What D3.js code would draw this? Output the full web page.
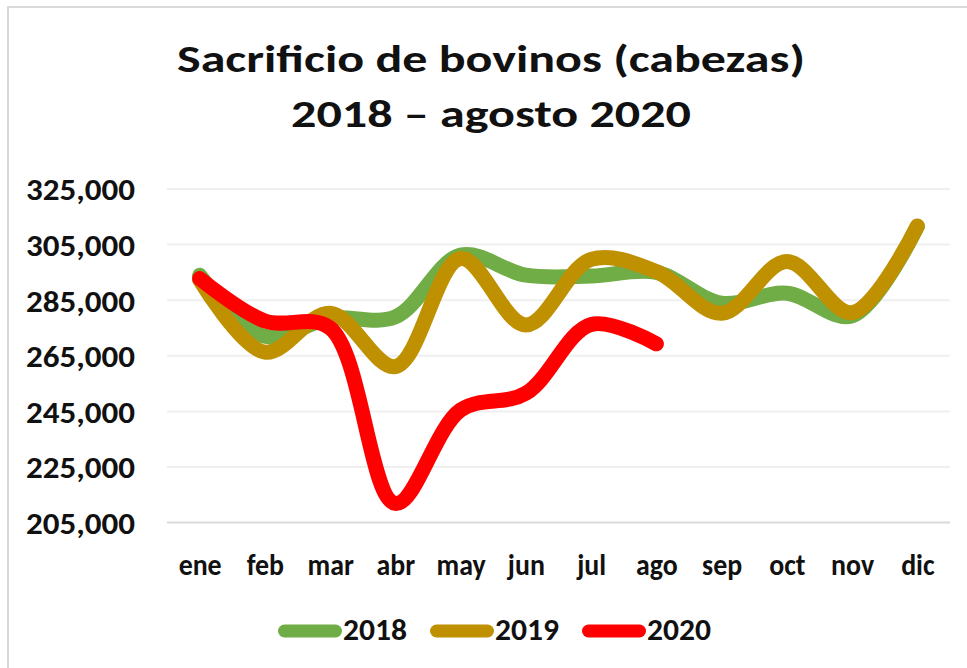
<!DOCTYPE html>
<html>
<head>
<meta charset="utf-8">
<script src="https://cdn.jsdelivr.net/npm/d3@7"></script>
<style>
  body { margin: 0; background: #fff; }
  svg { display: block; }
  text { font-family: Carlito, Lato, "Open Sans", sans-serif; font-weight: bold; fill: #111; }
</style>
</head>
<body>
<div class="chart-container"></div>
<script>
// Monthly data (heads)
const months = ["ene", "feb", "mar", "abr", "may", "jun", "jul", "ago", "sep", "oct", "nov", "dic"];
const values2018 = [294000, 272000, 278500, 279000, 301200, 294000, 293700, 295000, 283900, 287500, 279400, 311500];
const values2019 = [292300, 266300, 280300, 261100, 300000, 276100, 299700, 295300, 280300, 298900, 280500, 311700];
const values2020 = [292800, 277500, 275000, 211900, 245500, 251500, 276300, 269300];
const seriesNames = ["2018", "2019", "2020"];
const yTicks = [205000, 225000, 245000, 265000, 285000, 305000, 325000];

const colors = {"2018": "#70ad47", "2019": "#bf9000", "2020": "#ff0000"};

function drawChart() {
    const width = 967, height = 668;
    const plot = {left: 167, right: 950, top: 189, bottom: 522.6};

    const svg = d3.select(".chart-container")
        .append("svg")
        .attr("width", width)
        .attr("height", height);

    svg.append("rect")
        .attr("width", width).attr("height", height)
        .attr("fill", "#fff");

    // chart area border (cut off at right/bottom in the original)
    svg.append("rect")
        .attr("x", 8).attr("y", 7)
        .attr("width", 1000).attr("height", 700)
        .attr("fill", "none")
        .attr("stroke", "#d9d9d9")
        .attr("stroke-width", 2);

    // title
    const titleLines = [
        {text: "Sacrificio de bovinos (cabezas)", y: 72, w: 628},
        {text: "2018 \u2013 agosto 2020", y: 127, w: 400}
    ];
    svg.selectAll(".title")
        .data(titleLines)
        .enter()
        .append("text")
        .attr("class", "title")
        .attr("x", 491)
        .attr("y", d => d.y)
        .attr("text-anchor", "middle")
        .style("font-size", "39px")
        .text(d => d.text)
        .attr("textLength", d => d.w)
        .attr("lengthAdjust", "spacingAndGlyphs");

    const xScale = d3.scalePoint()
        .domain(months)
        .range([plot.left, plot.right])
        .padding(0.5);

    const yScale = d3.scaleLinear()
        .domain([205000, 325000])
        .range([plot.bottom, plot.top]);

    // gridlines
    svg.append("g")
        .selectAll("line")
        .data(yTicks)
        .enter()
        .append("line")
        .attr("x1", plot.left).attr("x2", plot.right)
        .attr("y1", d => yScale(d)).attr("y2", d => yScale(d))
        .attr("stroke", d => d === 205000 ? "#d9d9d9" : "#efefef")
        .attr("stroke-width", 2);

    // y axis labels
    const yAxis = svg.append("g")
        .attr("transform", `translate(${plot.left},0)`)
        .call(d3.axisLeft(yScale).tickValues(yTicks).tickSize(0).tickPadding(32)
            .tickFormat(d3.format(",")));
    yAxis.select(".domain").remove();
    yAxis.selectAll("text")
        .style("font-size", "31px")
        .attr("fill", "#111")
        .attr("dy", "0.35em")
        .attr("textLength", 109)
        .attr("lengthAdjust", "spacingAndGlyphs");

    // x axis labels
    const xAxis = svg.append("g")
        .attr("transform", `translate(0,${plot.bottom})`)
        .call(d3.axisBottom(xScale).tickSize(0).tickPadding(32));
    xAxis.select(".domain").remove();
    const xText = xAxis.selectAll("text")
        .style("font-size", "30px")
        .attr("fill", "#111");
    // squeeze to the narrower original face
    const eneW = xText.filter(d => d === "ene").node().getComputedTextLength();
    const ratio = 43 / eneW;
    xText.each(function() {
        const w = this.getComputedTextLength();
        d3.select(this).attr("textLength", w * ratio).attr("lengthAdjust", "spacingAndGlyphs");
    });
    xText.attr("dy", null).attr("y", 575 - plot.bottom);

    // lines
    const series = [
        {name: "2018", values: values2018},
        {name: "2019", values: values2019},
        {name: "2020", values: values2020}
    ];

    const line = d3.line()
        .x((d, i) => xScale(months[i]))
        .y(d => yScale(d))
        .curve(d3.curveCatmullRom.alpha(0.5));

    svg.append("g")
        .selectAll("path")
        .data(series)
        .enter()
        .append("path")
        .attr("d", d => line(d.values))
        .attr("fill", "none")
        .attr("stroke", d => colors[d.name])
        .attr("stroke-width", 15)
        .attr("stroke-linecap", "round")
        .attr("stroke-linejoin", "round");

    // legend
    const legend = svg.append("g")
        .selectAll("g")
        .data(seriesNames)
        .enter()
        .append("g")
        .attr("transform", (d, i) => `translate(${278 + i * 152},0)`);

    legend.append("line")
        .attr("x1", 6.5).attr("x2", 57.5)
        .attr("y1", 631).attr("y2", 631)
        .attr("stroke", d => colors[d])
        .attr("stroke-width", 13)
        .attr("stroke-linecap", "round");

    legend.append("text")
        .attr("x", 65)
        .attr("y", 640)
        .style("font-size", "30px")
        .text(d => d)
        .attr("textLength", 64)
        .attr("lengthAdjust", "spacingAndGlyphs");
}

drawChart();
</script>
</body>
</html>
